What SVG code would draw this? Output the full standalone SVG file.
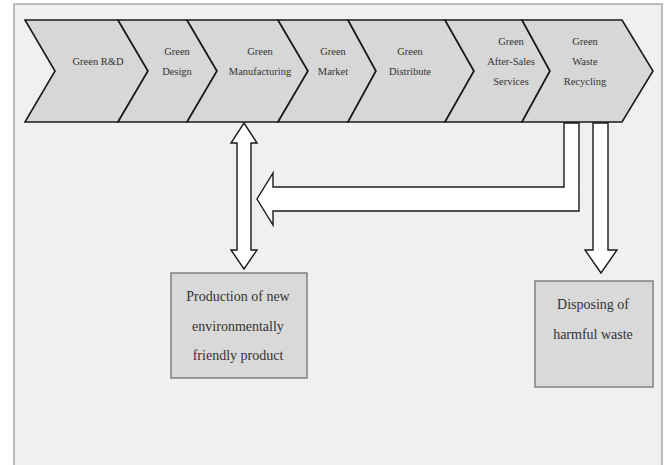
<svg xmlns="http://www.w3.org/2000/svg" width="667" height="465" viewBox="0 0 667 465">
<style>
.chev{fill:#d7d7d7;stroke:#1a1a1a;stroke-width:1.6;stroke-linejoin:miter}
.ct{font-family:"Liberation Serif","Times New Roman",serif;font-size:10.5px;fill:#333;text-anchor:middle}
.bt{font-family:"Liberation Serif","Times New Roman",serif;font-size:14px;fill:#333;text-anchor:middle}
.box{fill:#d9d9d9;stroke:#808080;stroke-width:1.5}
.arr{fill:#ffffff;stroke:#1a1a1a;stroke-width:1.4;stroke-linejoin:miter}
</style>
<rect x="0" y="0" width="667" height="465" fill="#ffffff"/>
<rect x="14" y="4" width="648" height="470" fill="#f0f0f0" stroke="#a8a8a8" stroke-width="1.5"/>
<g id="connectors">
<path class="arr" d="M244,123 L257,143 L251,143 L251,250 L257,250 L244,269 L231,250 L237,250 L237,143 L231,143 Z"/>
<path class="arr" d="M564,123 L564,187 L273,187 L273,173 L257,199 L273,225 L273,211 L579,211 L579,123 Z"/>
<path class="arr" d="M593,123 L593,250 L585,250 L601,273 L617,250 L608,250 L608,123 Z"/>
</g>
<g id="chevrons">
<g id="rd"><path class="chev" d="M25,20 L118,20 L148,71 L118,122 L25,122 L55,71 Z"/><text class="ct" x="98" y="65">Green R&amp;D</text></g>
<g id="design"><path class="chev" d="M118,20 L187,20 L217,71 L187,122 L118,122 L148,71 Z"/><text class="ct" x="177" y="55">Green</text><text class="ct" x="177" y="75">Design</text></g>
<g id="manufacturing"><path class="chev" d="M187,20 L278,20 L308,71 L278,122 L187,122 L217,71 Z"/><text class="ct" x="260" y="55">Green</text><text class="ct" x="260" y="75">Manufacturing</text></g>
<g id="market"><path class="chev" d="M278,20 L348,20 L376,71 L348,122 L278,122 L308,71 Z"/><text class="ct" x="333" y="55">Green</text><text class="ct" x="333" y="75">Market</text></g>
<g id="distribute"><path class="chev" d="M348,20 L445,20 L474,71 L445,122 L348,122 L376,71 Z"/><text class="ct" x="410" y="55">Green</text><text class="ct" x="410" y="75">Distribute</text></g>
<g id="aftersales"><path class="chev" d="M445,20 L522,20 L550,71 L522,122 L445,122 L474,71 Z"/><text class="ct" x="511" y="45">Green</text><text class="ct" x="511" y="65">After-Sales</text><text class="ct" x="511" y="85">Services</text></g>
<g id="recycling"><path class="chev" d="M522,20 L622,20 L653,71 L622,122 L522,122 L550,71 Z"/><text class="ct" x="585" y="45">Green</text><text class="ct" x="585" y="65">Waste</text><text class="ct" x="585" y="85">Recycling</text></g>
</g>
<g id="newproduct">
<rect class="box" x="171" y="273" width="136" height="105"/>
<text class="bt" x="238" y="301">Production of new</text>
<text class="bt" x="238" y="331">environmentally</text>
<text class="bt" x="238" y="360">friendly product</text>
</g>
<g id="disposing">
<rect class="box" x="535" y="281" width="118" height="106"/>
<text class="bt" x="593" y="309">Disposing of</text>
<text class="bt" x="593" y="339">harmful waste</text>
</g>
</svg>
